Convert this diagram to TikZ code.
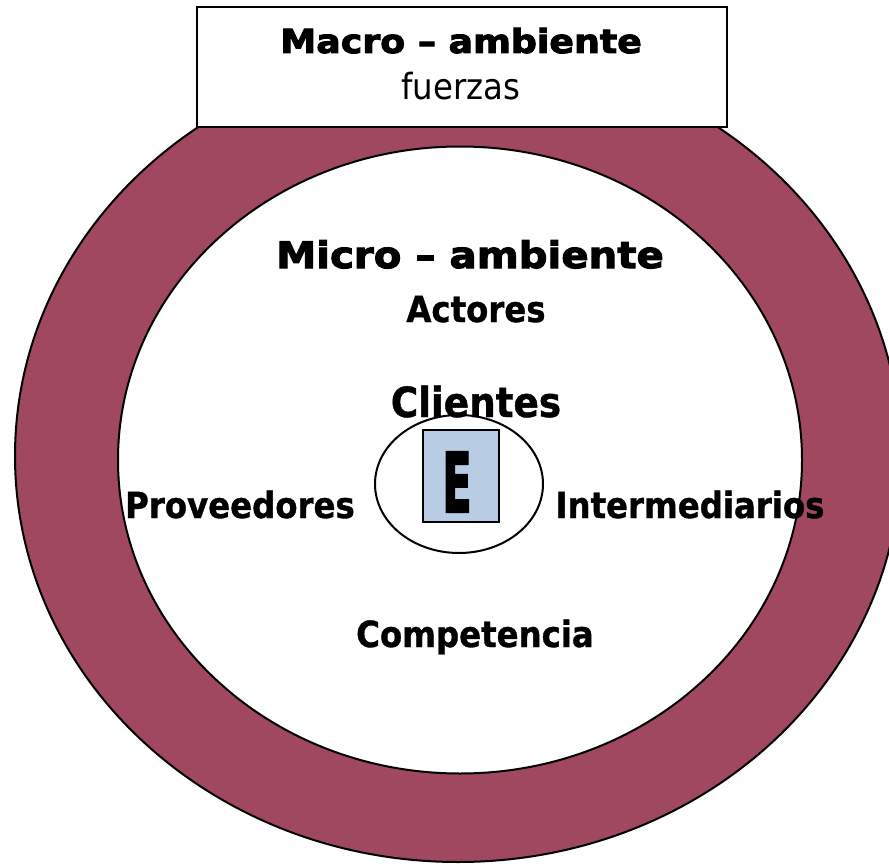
\documentclass[tikz,border=0pt]{standalone}
\usepackage{fontspec}
\setmainfont{DejaVu Sans}
\newfontfamily\heavyfont[FakeStretch=1.1,FakeBold=3]{DejaVu Sans Bold}
\newfontfamily\actorfont[FakeBold=1]{DejaVu Sans Condensed Bold}
\newfontfamily\plainfont{DejaVu Sans Condensed}
\newfontfamily\letterfont[FakeBold=3]{DejaVu Sans Condensed Bold}
\usetikzlibrary{shapes.geometric}
\definecolor{ringred}{RGB}{160,72,95}
\definecolor{boxblue}{RGB}{184,204,228}

\begin{document}
\begin{tikzpicture}[x=1pt,y=-1pt,line width=2pt,
  ring node/.style={ellipse,draw,inner sep=0pt},
  title node/.style={anchor=base,inner sep=0pt},
  actor node/.style={anchor=base,inner sep=0pt,font=\fontsize{36}{40}\actorfont}]
  \useasboundingbox (0,0) rectangle (889,864);

  % rings
  \node[ring node,fill=ringred,minimum width=886pt,minimum height=812pt] (macro) at (458,456) {};
  \node[ring node,fill=white,minimum width=684pt,minimum height=627pt] (micro) at (460,460) {};
  \node[draw,fill=white,inner sep=0pt,minimum width=530pt,minimum height=120pt] (box) at (462,67) {};

  % macro box
  \node[title node,font=\fontsize{33}{36}\heavyfont] (macrotitle) at (461,53) {Macro – ambiente};
  \node[title node,font=\fontsize{36}{38}\plainfont] (fuerzas) at (461,100) {fuerzas};

  % micro
  \node[title node,font=\fontsize{36.6}{40}\heavyfont] (microtitle) at (470,268) {Micro – ambiente};
  \node[actor node] (actores) at (476,322) {Actores};

  % company
  \node[ring node,fill=white,minimum width=168pt,minimum height=138pt] (firm) at (459,484) {};
  \node[draw,fill=boxblue,inner sep=0pt,minimum width=76pt,minimum height=92pt] (firmbox) at (461,476) {};
  \node[title node,font=\fontsize{82}{84}\letterfont] (E) at (457,512) {\scalebox{0.58}[1]{E}};

  % actors
  \node[actor node,font=\fontsize{41.5}{44}\actorfont] (clientes) at (476,417) {Clientes};
  \node[actor node] (proveedores) at (240,518) {Proveedores};
  \node[actor node] (intermediarios) at (690,518) {Intermediarios};
  \node[actor node] (competencia) at (475,647) {Competencia};
\end{tikzpicture}
\end{document}
